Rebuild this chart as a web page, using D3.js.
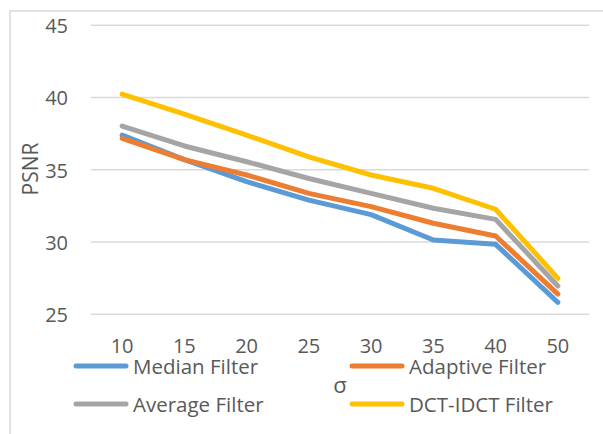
<!DOCTYPE html>
<html><head><meta charset="utf-8">
<script src="https://cdn.jsdelivr.net/npm/d3@7"></script>
<style>body{margin:0;background:#fff}svg{display:block}text{font-family:"Open Sans",sans-serif;fill:#595959}</style>
</head><body>
<script>
const categories = ["10","15","20","25","30","35","40","50"];
const yTicks = [25,30,35,40,45];
const medianFilter = [37.4,35.7,34.18,32.9,31.9,30.14,29.84,25.83];
const adaptiveFilter = [37.18,35.7,34.64,33.37,32.45,31.3,30.42,26.4];
const averageFilter = [38.03,36.65,35.56,34.4,33.37,32.34,31.57,26.96];
const dctFilter = [40.24,38.85,37.4,35.9,34.64,33.72,32.27,27.49];
const seriesNames = ["Median Filter","Adaptive Filter","Average Filter","DCT-IDCT Filter"];
const colors = ["#5B9BD5","#ED7D31","#A5A5A5","#FFC000"];
const series = [medianFilter, adaptiveFilter, averageFilter, dctFilter];

const W=603,H=434, FS="20px";
const svg=d3.select("body").append("svg").attr("width",W).attr("height",H);
svg.append("rect").attr("x",10).attr("y",11).attr("width",W).attr("height",H).attr("fill","none").attr("stroke","#D9D9D9").attr("stroke-width",1.5);

const x=d3.scaleBand().domain(categories).range([91,589]);
const y=d3.scaleLinear().domain([25,45]).range([314.3,25.3]);

svg.append("g").selectAll("line").data(yTicks).enter().append("line")
 .attr("x1",91).attr("x2",589).attr("y1",d=>y(d)).attr("y2",d=>y(d))
 .attr("stroke","#D9D9D9").attr("stroke-width",1.5);

const yAxis=svg.append("g").attr("transform","translate(91,0)")
 .call(d3.axisLeft(y).tickValues(yTicks).tickSize(0).tickPadding(23));
yAxis.select(".domain").remove();
yAxis.selectAll("text").style("font-size",FS).attr("fill","#595959").style("font-family","'Open Sans',sans-serif").attr("dy","0.36em");

const xAxis=svg.append("g").attr("transform","translate(0,314.3)")
 .call(d3.axisBottom(x).tickSize(0));
xAxis.select(".domain").remove();
xAxis.selectAll("text").style("font-size",FS).attr("fill","#595959").style("font-family","'Open Sans',sans-serif")
 .attr("y",38.5).attr("dy","0");

svg.append("text").attr("transform","translate(38,169) rotate(-90)").attr("text-anchor","middle")
 .style("font-size","21px").text("PSNR");
svg.append("text").attr("x",340).attr("y",393).attr("text-anchor","middle")
 .style("font-size","22px").text("σ");

const line=d3.line().x((d,i)=>x(categories[i])+x.bandwidth()/2).y(d=>y(d));
series.forEach((s,i)=>{
 svg.append("path").datum(s).attr("d",line).attr("fill","none")
  .attr("stroke",colors[i]).attr("stroke-width",5).attr("stroke-linejoin","round").attr("stroke-linecap","round");
});

const legPos=[[74,366],[350,366],[74,404],[350,404]];
seriesNames.forEach((n,i)=>{
 const [lx,ly]=legPos[i];
 svg.append("line").attr("x1",lx+2).attr("x2",lx+52).attr("y1",ly).attr("y2",ly)
  .attr("stroke",colors[i]).attr("stroke-width",5).attr("stroke-linecap","round");
 svg.append("text").attr("x",lx+59).attr("y",ly+7.5).style("font-size","20.5px").text(n);
});
</script>
</body></html>
